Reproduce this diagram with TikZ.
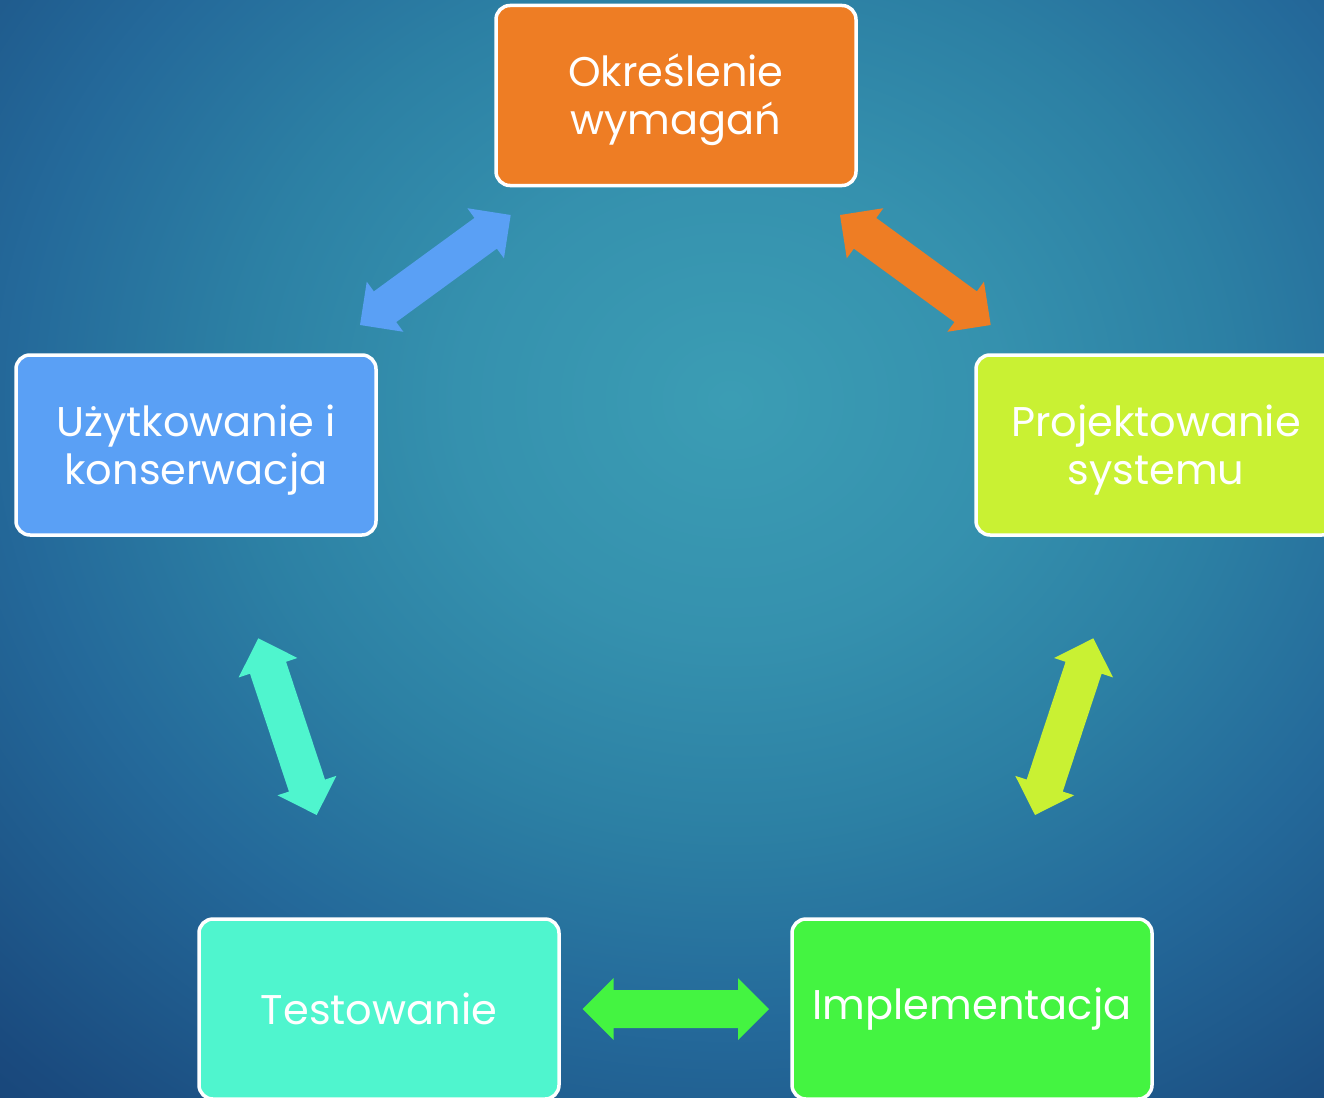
\documentclass[tikz,border=0pt]{standalone}
\usepackage{fontspec}
\setmainfont{Poppins}
\usetikzlibrary{calc}

\definecolor{bgA}{HTML}{3B9DB4}
\definecolor{bgB}{HTML}{3591AE}
\definecolor{bgC}{HTML}{2C80A4}
\definecolor{bgD}{HTML}{24699A}
\definecolor{bgE}{HTML}{1F5A8C}
\definecolor{bgF}{HTML}{1A4A7E}
\definecolor{bgG}{HTML}{163F72}
\definecolor{cOrange}{HTML}{EE7D24}
\definecolor{cLime}{HTML}{C9F133}
\definecolor{cBlue}{HTML}{5AA0F5}
\definecolor{cAqua}{HTML}{4FF5CE}
\definecolor{cGreen}{HTML}{44F441}

% radius 25bp reaches the edge of the shaded rectangle
\pgfdeclareradialshading{slidebg}{\pgfpoint{0bp}{0bp}}{%
  color(0bp)=(bgA); color(8.5bp)=(bgB); color(15.5bp)=(bgC);
  color(22.5bp)=(bgD); color(27.5bp)=(bgE); color(32.5bp)=(bgF);
  color(38bp)=(bgG); color(50bp)=(bgG)}

\tikzset{
  phase/.style={draw=white, line width=3.5pt, rounded corners=14pt,
    minimum width=360pt, minimum height=180pt, inner sep=0pt,
    text=white, align=center, font=\fontsize{41.5}{48}\selectfont},
}

% two centred lines of a phase label
\newcommand{\phasetext}[2]{%
  \raisebox{-5.5pt}[\height][\depth]{\begin{tabular}{@{}c@{}}#1\\#2\end{tabular}}}

% double-headed block arrow between two named coordinates
\newcommand{\blockarrow}[3]{%
  \coordinate (#2h) at ($(#2)!31pt!(#3)$);
  \coordinate (#3h) at ($(#3)!31pt!(#2)$);
  \fill[#1] (#2)
    -- ($(#2h)!31pt!90:(#3)$) -- ($(#2h)!19pt!90:(#3)$)
    -- ($(#3h)!19pt!-90:(#2)$) -- ($(#3h)!31pt!-90:(#2)$)
    -- (#3)
    -- ($(#3h)!31pt!90:(#2)$) -- ($(#3h)!19pt!90:(#2)$)
    -- ($(#2h)!19pt!-90:(#3)$) -- ($(#2h)!31pt!-90:(#3)$)
    -- cycle;}

\begin{document}
\begin{tikzpicture}[x=1pt, y=-1pt]
\useasboundingbox (0,0) rectangle (1324,1097);
\begin{scope}
  \clip (0,0) rectangle (1324,1097);
  % background, a soft glow centred at (730,400)
  \shade[shading=slidebg] (-70,-297) rectangle (1530,1097);

  % phases
  \node[phase, fill=cOrange] (req)    at (676,95.5) {\phasetext{Określenie}{wymagań}};
  \node[phase, fill=cLime]   (design) at (1156,445) {\phasetext{Projektowanie}{systemu}};
  \node[phase, fill=cBlue]   (use)    at (196,445)  {\phasetext{Użytkowanie i}{konserwacja}};
  \node[phase, fill=cAqua]   (test)   at (379,1009) {Testowanie};
  \node[phase, fill=cGreen]  (impl)   at (972,1009) {Implementacja};

  % arrow end points
  \coordinate (ru1) at (510.7,215);   \coordinate (ru2) at (360,325);
  \coordinate (rd1) at (840,215);     \coordinate (rd2) at (990.7,325);
  \coordinate (di1) at (1093.3,638.3);\coordinate (di2) at (1035,815);
  \coordinate (it1) at (582.7,1009);  \coordinate (it2) at (769,1009);
  \coordinate (tu1) at (258.3,638.3); \coordinate (tu2) at (316.7,815);

  \blockarrow{cBlue}{ru1}{ru2}
  \blockarrow{cOrange}{rd1}{rd2}
  \blockarrow{cLime}{di1}{di2}
  \blockarrow{cGreen}{it1}{it2}
  \blockarrow{cAqua}{tu1}{tu2}
\end{scope}
\end{tikzpicture}
\end{document}
